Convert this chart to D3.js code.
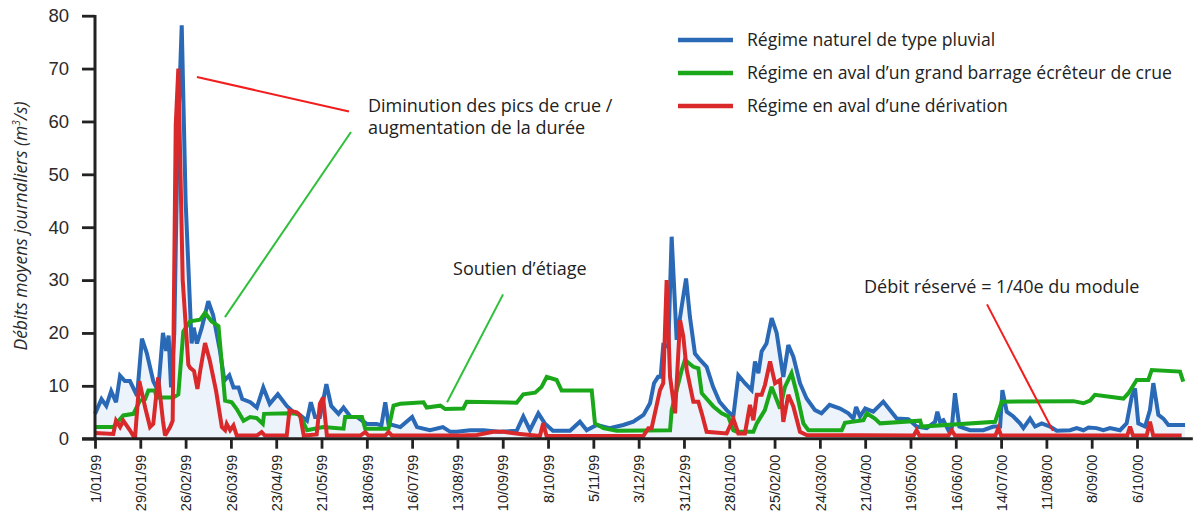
<!DOCTYPE html>
<html>
<head>
<meta charset="utf-8">
<script src="https://cdn.jsdelivr.net/npm/d3@7"></script>
<style>
  body { margin: 0; background: #fff; }
  svg { display: block; font-family: "Open Sans", sans-serif; }
</style>
</head>
<body>
<svg width="1197" height="519"></svg>
<script>
// day offsets from 1/01/99, daily mean flow (m3/s)
var naturel = [[0,4.7],[4,7.5],[7,6.2],[10,9],[13,6.9],[15.5,11.9],[18.5,10.9],[21.6,10.9],[26,8.1],[29,18.9],[32,16.2],[36,10.9],[39,9],[42,20],[44,16.6],[45.5,19.5],[47,9.7],[49,20],[51,55],[53.6,78.2],[56,45],[59.7,18],[61,21],[63,18],[66,21],[70,26],[73,23.4],[77,17],[80,11],[83,12],[85.6,9.7],[88.7,9.7],[91,7.5],[96,6.9],[100,5.9],[104,9.7],[108,6.6],[113,8.4],[118.5,6.2],[122.7,5.0],[127,4.4],[131,3.4],[133.4,6.9],[136,4.1],[139,4.1],[143,10.3],[146,6.2],[150.5,4.7],[153.6,5.9],[158,4.1],[162,4.1],[168,2.8],[174,2.8],[177,2.5],[179.4,6.9],[181.4,2.8],[188.7,2.2],[196,4.1],[199,2.2],[207,1.6],[215,2.2],[219.6,1.3],[223.5,1.3],[231.8,1.6],[240,1.6],[250,1.3],[260.6,1.5],[264.7,4.2],[268.8,1.6],[274,4.8],[278,2.9],[283,1.5],[293.6,1.5],[299.7,3.2],[303.9,1.6],[310,2.6],[318,2.0],[326.5,2.6],[332.7,3.2],[339,4.5],[343,6.7],[345.5,10.5],[348,11.7],[349.6,11.7],[351.2,17.7],[354.3,17.4],[356.4,38.2],[359.5,18.7],[362.6,25],[365.3,30.3],[367.7,23],[370.8,16.1],[374,14.9],[378,13.6],[382,9.8],[386,7],[390.4,5.4],[394.5,4.2],[397.6,12],[401.7,10.5],[405.8,9.2],[407.9,14.6],[410,12.4],[412,16.5],[415,18],[418.2,22.8],[421.3,20],[425.4,11.7],[428.5,17.7],[431.6,15.5],[435.7,10.5],[439.8,7.6],[445,5.4],[449,4.8],[454,6.4],[460.5,5.7],[465.6,4.8],[468.7,3.8],[470.4,6.0],[472.8,4.2],[476,5.7],[481,5.1],[487.2,7.0],[491.4,5.4],[495.5,3.8],[502.7,3.7],[507.8,2.3],[514,2.0],[519.2,3.2],[520.6,5.1],[522.3,3.2],[524.3,3.5],[527.4,1.6],[529.5,2.0],[531.5,8.6],[534.2,2.3],[540.8,1.6],[549,1.6],[555.2,2.3],[559.4,2.3],[560.8,9.2],[563.5,5.1],[567.6,4.2],[571.7,2.9],[573.8,2.0],[577.9,3.8],[581,2.3],[585.1,2.9],[590.3,2.3],[594.4,1.5],[602.6,1.6],[606.7,2.0],[610.9,1.6],[614,2.1],[619,2.0],[623.2,1.6],[627.3,2.0],[633.5,1.6],[637.6,2.9],[640.7,7.9],[642.8,9.5],[644.8,2.9],[649,2.3],[652,5.4],[654.1,10.5],[657.2,4.5],[660.3,3.8],[663.4,2.6],[673.7,2.6]];

var barrage = [[0,2.2],[11.3,2.2],[17.5,4.4],[23.7,4.7],[27.8,7.2],[31,7.5],[33,9.1],[37,9.1],[38,7.8],[48.5,7.8],[51.5,8.4],[54.6,20.3],[58.8,22.2],[65,22.5],[68,23.8],[72,22.2],[76.3,21.3],[80.4,7.2],[84.5,6.9],[87.6,5.6],[91.8,3.4],[95.9,4.1],[100,3.9],[103.7,2.8],[104.5,4.7],[120.6,4.8],[125.8,4.7],[127.8,3.75],[131,1.6],[141,2.2],[153.6,1.9],[154.6,4.1],[165,4.1],[167,1.9],[181.4,1.9],[184.5,6.25],[188.7,6.6],[203,6.9],[205,5.9],[213.4,6.25],[216.5,5.6],[227.6,5.7],[229.7,7.0],[260.6,6.8],[264.7,8.4],[272,8.7],[276,9.8],[279.2,11.7],[285.3,11.1],[288.4,9.1],[307,9.1],[309,2.9],[314.2,2.0],[322.4,1.5],[355.4,1.6],[356.4,5.4],[362.6,13],[364.6,14.9],[369.8,13.6],[372.9,13.3],[375,8.6],[382.2,6.1],[387.3,4.8],[391.4,4.2],[394.5,1.6],[396.6,1.3],[406.9,1.3],[409,2.9],[414,5.4],[418.2,9.8],[423.4,5.7],[426.4,9.8],[430.5,12.4],[433.7,8.6],[437.8,2.9],[440.9,1.6],[461.5,1.6],[463.5,3.0],[474.9,3.5],[477,4.8],[482,3.8],[485.2,2.9],[510,3.4],[511,2.3],[556.3,3.2],[560.4,7.0],[604.7,7.1],[610.9,6.7],[615,7.2],[618,8.3],[635.6,7.6],[638.7,8.6],[643.8,11.1],[651,11.1],[653.1,13],[670.6,12.7],[672.6,10.8]];

var derivation = [[0,1.1],[11.3,0.9],[13,3.4],[15.5,2.2],[17.5,3.4],[21.6,1.6],[24.7,0],[27.4,10.9],[31,5.9],[34,2.2],[36,2.8],[39,11.6],[42,3.4],[43.3,0.6],[46.4,2.2],[48,3.4],[49.9,59.3],[51.5,70],[54.2,30],[57.7,14],[58.8,13.4],[61.2,12.8],[63.3,9.4],[65,12.8],[68,18.1],[71,14.7],[74.8,9.1],[78.4,2.2],[80.4,1.6],[81.4,2.8],[83.5,1.6],[85.6,2.5],[87.6,0.6],[100,0.6],[103,1.25],[105,0.6],[118.5,0.6],[120.2,5.3],[124.7,5.0],[126.8,4.4],[129,0.6],[137,0.8],[139,6.6],[141,7.8],[143.3,0.6],[164,0.6],[167,1.25],[169,0.6],[179.4,0.6],[181.4,1.25],[183.5,0.6],[226,0.6],[236,0.7],[246.2,1.3],[252.4,1.3],[262.7,0.9],[275,0.5],[277,2.9],[279.1,0.5],[338.9,0.5],[342,2.0],[344,2.0],[349.2,9.2],[351.2,10.5],[353.3,30],[355.4,11.7],[358.5,4.8],[361.6,22.4],[363.6,19.3],[365.7,13],[369.8,7],[372.9,7],[375,4.8],[378,1.3],[390.4,1.0],[394.5,3.8],[397.6,1.0],[401.7,1.0],[404.8,6.4],[406.9,3.5],[409,8.3],[412,8.3],[414.1,10.2],[417.2,14.6],[420.3,10.5],[423.4,11.1],[425.4,3.2],[428.5,8.3],[431.6,6.1],[435.7,1.3],[439.8,0.7],[506,0.6],[507.8,1.6],[509.5,0.6],[527.5,0.6],[529.5,1.6],[531.5,0.6],[556.5,0.6],[558.3,2.0],[560,0.6],[638,0.6],[639.7,2.3],[641.5,0.6],[650,0.6],[652,3.2],[654,0.6],[671.6,0.6]];

var dateTicks = ["1/01/99","29/01/99","26/02/99","26/03/99","23/04/99","21/05/99","18/06/99","16/07/99","13/08/99","10/09/99","8/10/99","5/11/99","3/12/99","31/12/99","28/01/00","25/02/00","24/03/00","21/04/00","19/05/00","16/06/00","14/07/00","11/08/00","8/09/00","6/10/00"];
var yTicks = [0,10,20,30,40,50,60,70,80];

var legendLabels = ["Régime naturel de type pluvial", "Régime en aval d’un grand barrage écrêteur de crue", "Régime en aval d’une dérivation"];
var colors = ["#2a69b6", "#1aa81a", "#d9292b"];

// annotations: [day, value]
var notes = [
  {lines: ["Diminution des pics de crue /", "augmentation de la durée"], at: [168.7, 61.8]},
  {lines: ["Soutien d’étiage"], at: [221.3, 31]},
  {lines: ["Débit réservé = 1/40e du module"], at: [475.3, 27.6]}
];
var leaders = [
  {color: "#f21d1d", from: [63, 68.4], to: [157, 61.9]},
  {color: "#2fbf3a", from: [158.2, 58.0], to: [80.3, 23.0]},
  {color: "#2fbf3a", from: [252.2, 27.3], to: [217.6, 6.9]},
  {color: "#f21d1d", from: [551.3, 25.4], to: [592, 1.5]}
];

var svg = d3.select("svg");
var start = Date.UTC(1999, 0, 1);
var toDate = function(d) { return new Date(start + d * 864e5); };
var parse = d3.utcParse("%d/%m/%y");

var x = d3.scaleUtc()
  .domain([toDate(0), toDate(644)])
  .range([95, 1137]);
var y = d3.scaleLinear()
  .domain([0, 80])
  .range([438.7, 15.7]);

var line = d3.line()
  .x(function(d) { return x(toDate(d[0])); })
  .y(function(d) { return y(d[1]); });
var area = d3.area()
  .x(function(d) { return x(toDate(d[0])); })
  .y0(y(0))
  .y1(function(d) { return y(d[1]); });

svg.append("path")
  .datum(naturel)
  .attr("d", area)
  .attr("fill", "#edf3fb");

[naturel, barrage, derivation].forEach(function(s, i) {
  svg.append("path")
    .datum(s)
    .attr("d", line)
    .attr("fill", "none")
    .attr("stroke", colors[i])
    .attr("stroke-width", 4)
    .attr("stroke-linejoin", "miter")
    .attr("stroke-miterlimit", 3);
});

// axes
var ya = svg.append("g")
  .attr("transform", "translate(95,0)")
  .call(d3.axisLeft(y).tickValues(yTicks).tickSize(13).tickPadding(13));
var xa = svg.append("g")
  .attr("transform", "translate(0," + y(0) + ")")
  .call(d3.axisBottom(x)
    .tickValues(dateTicks.map(function(t) { return parse(t); }))
    .tickFormat(function(d, i) { return dateTicks[i]; })
    .tickSize(10));
[ya, xa].forEach(function(a) {
  a.select(".domain").remove();
  a.selectAll("line").attr("stroke", "#222").attr("stroke-width", 2.8);
});
ya.selectAll("text")
  .attr("fill", "#2a2a2a")
  .style("font-size", "18.5px")
  .style("font-weight", 500);
xa.selectAll("text")
  .attr("transform", "rotate(-90)")
  .attr("x", -16)
  .attr("y", 0)
  .attr("dy", "0.36em")
  .style("text-anchor", "end")
  .style("font-size", "14.5px")
  .style("font-weight", 500)
  .attr("fill", "#222");

svg.append("line")
  .attr("x1", 95).attr("x2", 95)
  .attr("y1", 15).attr("y2", y(0) + 1.5)
  .attr("stroke", "#222").attr("stroke-width", 3);
svg.append("line")
  .attr("x1", 82).attr("x2", x(toDate(678.5)))
  .attr("y1", y(0)).attr("y2", y(0))
  .attr("stroke", "#222").attr("stroke-width", 3);

svg.append("text")
  .attr("transform", "translate(27," + 226 + ") rotate(-90)")
  .attr("text-anchor", "middle")
  .style("font-style", "italic")
  .style("font-size", "17.5px")
  .attr("fill", "#2a2a2a")
  .text("Débits moyens journaliers (m")
  .append("tspan").attr("baseline-shift", "super").style("font-size", "10px").text("3")
  .select(function() { return this.parentNode; })
  .append("tspan").text("/s)");

// leader lines and notes
leaders.forEach(function(l) {
  svg.append("line")
    .attr("x1", x(toDate(l.from[0]))).attr("y1", y(l.from[1]))
    .attr("x2", x(toDate(l.to[0]))).attr("y2", y(l.to[1]))
    .attr("stroke", l.color).attr("stroke-width", 2);
});
notes.forEach(function(n) {
  var t = svg.append("text")
    .attr("x", x(toDate(n.at[0])))
    .attr("y", y(n.at[1]))
    .style("font-size", "18px")
    .attr("fill", "#222");
  n.lines.forEach(function(s, i) {
    t.append("tspan")
      .attr("x", x(toDate(n.at[0])))
      .attr("dy", i ? 22 : 0)
      .text(s);
  });
});

// legend
var lg = svg.append("g").attr("transform", "translate(678,40)");
legendLabels.forEach(function(s, i) {
  var g = lg.append("g").attr("transform", "translate(0," + (i * 33) + ")");
  g.append("line")
    .attr("x1", 0).attr("x2", 55)
    .attr("stroke", colors[i]).attr("stroke-width", 4.5);
  g.append("text")
    .attr("x", 69).attr("dy", "0.36em")
    .style("font-size", "17.6px")
    .attr("fill", "#222")
    .text(s);
});
</script>
</body>
</html>
